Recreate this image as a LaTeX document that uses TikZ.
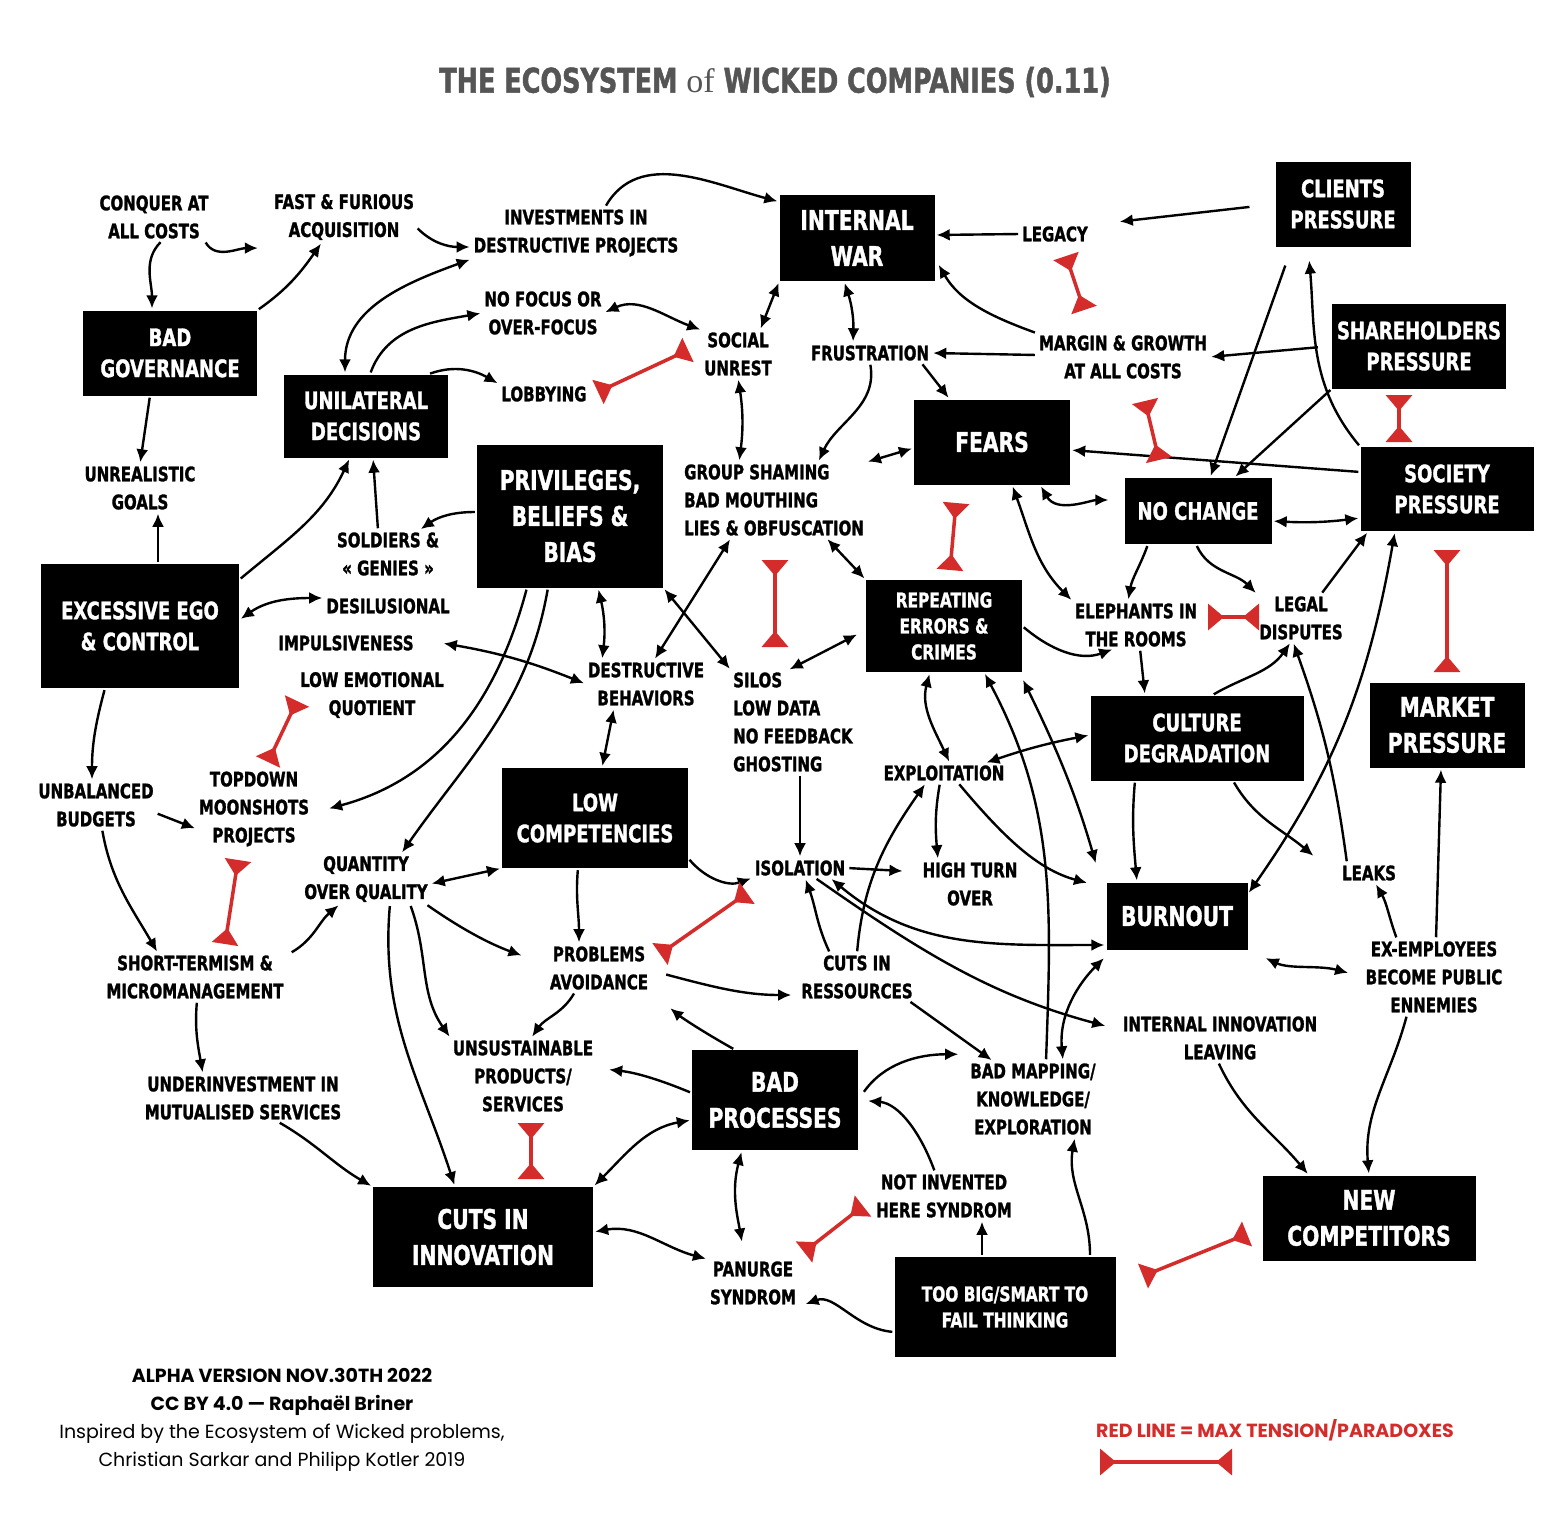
\documentclass[tikz,border=0pt]{standalone}
\usepackage{fontspec}
\usetikzlibrary{arrows.meta}
\newfontfamily\wickedfont[FakeStretch=0.75,FakeBold=1.3]{DejaVu Sans}
\newfontfamily\ofserif{Liberation Serif}
\newfontfamily\footfont{Poppins}
\definecolor{tensionred}{HTML}{D42B2B}
\definecolor{titlegray}{HTML}{555555}
\tikzset{
  wbox/.style 2 args={fill=black, text=white, align=center, inner sep=0pt, minimum width=#1pt, minimum height=#2pt},
  bigtype/.style={font=\wickedfont\bfseries\fontsize{27}{36}\selectfont},
  midtype/.style={font=\wickedfont\bfseries\fontsize{24}{31}\selectfont},
  smalltype/.style={font=\wickedfont\bfseries\fontsize{20.5}{26}\selectfont},
  issue/.style={font=\wickedfont\bfseries\fontsize{20}{28}\selectfont, align=center, inner sep=2pt},
  cause/.style={-{Latex[length=13pt,width=12pt]}, line width=2.4pt, shorten >=2pt, shorten <=2pt},
  mutual/.style={{Latex[length=13pt,width=12pt]}-{Latex[length=13pt,width=12pt]}, line width=2.4pt, shorten >=2pt, shorten <=2pt},
  strainline/.style={draw=tensionred, line width=3.5pt, {Triangle[reversed,length=16pt,width=26pt]}-{Triangle[reversed,length=16pt,width=26pt]}}
}
\begin{document}
\begin{tikzpicture}[x=1pt,y=1pt]
\useasboundingbox (0,0) rectangle (1562,-1536);
\fill[white] (0,0) rectangle (1562,-1536);

\node[font=\wickedfont\bfseries\fontsize{34}{40}\selectfont, text=titlegray] (title) at (775,-82) {THE ECOSYSTEM {\ofserif\mdseries of} WICKED COMPANIES (0.11)};

\node[wbox={174}{85}, midtype] (gov) at (170,-353) {BAD\\GOVERNANCE};
\node[wbox={164}{83}, midtype] (unil) at (366,-416) {UNILATERAL\\DECISIONS};
\node[wbox={198}{124}, midtype] (ego) at (140,-626) {EXCESSIVE EGO\\\& CONTROL};
\node[wbox={186}{143}, bigtype] (priv) at (570,-516) {PRIVILEGES,\\BELIEFS \&\\BIAS};
\node[wbox={155}{86}, bigtype] (war) at (857,-238) {INTERNAL\\WAR};
\node[wbox={135}{85}, midtype] (clients) at (1343,-204) {CLIENTS\\PRESSURE};
\node[wbox={174}{85}, midtype] (share) at (1419,-346) {SHAREHOLDERS\\PRESSURE};
\node[wbox={156}{85}, bigtype] (fears) at (992,-442) {FEARS};
\node[wbox={147}{66}, midtype] (nochange) at (1198,-511) {NO CHANGE};
\node[wbox={173}{84}, midtype] (society) at (1447,-489) {SOCIETY\\PRESSURE};
\node[wbox={156}{92}, smalltype] (repeat) at (944,-626) {REPEATING\\ERRORS \&\\CRIMES};
\node[wbox={213}{85}, midtype] (culture) at (1197,-738) {CULTURE\\DEGRADATION};
\node[wbox={155}{85}, bigtype] (market) at (1447,-725) {MARKET\\PRESSURE};
\node[wbox={186}{100}, midtype] (lowcomp) at (595,-818) {LOW\\COMPETENCIES};
\node[wbox={141}{67}, bigtype] (burnout) at (1177,-916) {BURNOUT};
\node[wbox={166}{100}, bigtype] (badproc) at (775,-1100) {BAD\\PROCESSES};
\node[wbox={220}{100}, bigtype] (cutsinno) at (483,-1237) {CUTS IN\\INNOVATION};
\node[wbox={221}{100}, smalltype] (toobig) at (1005,-1307) {TOO BIG/SMART TO\\FAIL THINKING};
\node[wbox={213}{85}, bigtype] (newcomp) at (1369,-1218) {NEW\\COMPETITORS};

\node[issue] (conquer) at (154,-217) {CONQUER AT\\ALL COSTS};
\node[issue] (fastfur) at (344,-217) {FAST \& FURIOUS\\ACQUISITION};
\node[issue] (invest) at (576,-233) {INVESTMENTS IN\\DESTRUCTIVE PROJECTS};
\node[issue] (nofocus) at (543,-313) {NO FOCUS OR\\OVER-FOCUS};
\node[issue] (lobby) at (544,-394) {LOBBYING};
\node[issue] (social) at (738,-354) {SOCIAL\\UNREST};
\node[issue] (frustr) at (870,-353) {FRUSTRATION};
\node[issue] (legacy) at (1055,-234) {LEGACY};
\node[issue] (margin) at (1123,-357) {MARGIN \& GROWTH\\AT ALL COSTS};
\node[issue] (unreal) at (140,-488) {UNREALISTIC\\GOALS};
\node[issue] (soldiers) at (388,-554) {SOLDIERS \&\\« GENIES »};
\node[issue, align=left, anchor=west] (group) at (682,-500) {GROUP SHAMING\\BAD MOUTHING\\LIES \& OBFUSCATION};
\node[issue] (desil) at (388,-606) {DESILUSIONAL};
\node[issue] (impuls) at (346,-643) {IMPULSIVENESS};
\node[issue] (lowemo) at (372,-695) {LOW EMOTIONAL\\QUOTIENT};
\node[issue] (destr) at (646,-684) {DESTRUCTIVE\\BEHAVIORS};
\node[issue, align=left, anchor=west] (silos) at (731,-722) {SILOS\\LOW DATA\\NO FEEDBACK\\GHOSTING};
\node[issue] (elephants) at (1136,-625) {ELEPHANTS IN\\THE ROOMS};
\node[issue] (legal) at (1301,-618) {LEGAL\\DISPUTES};
\node[issue] (unbal) at (96,-805) {UNBALANCED\\BUDGETS};
\node[issue] (topdown) at (254,-809) {TOPDOWN\\MOONSHOTS\\PROJECTS};
\node[issue] (quantity) at (366,-879) {QUANTITY\\OVER QUALITY};
\node[issue] (exploit) at (944,-773) {EXPLOITATION};
\node[issue] (isolation) at (800,-868) {ISOLATION};
\node[issue] (highturn) at (970,-884) {HIGH TURN\\OVER};
\node[issue] (leaks) at (1369,-873) {LEAKS};
\node[issue] (shortterm) at (195,-977) {SHORT-TERMISM \&\\MICROMANAGEMENT};
\node[issue] (problems) at (599,-968) {PROBLEMS\\AVOIDANCE};
\node[issue] (cutsres) at (857,-977) {CUTS IN\\RESSOURCES};
\node[issue] (exempl) at (1434,-977) {EX-EMPLOYEES\\BECOME PUBLIC\\ENNEMIES};
\node[issue] (intinno) at (1220,-1038) {INTERNAL INNOVATION\\LEAVING};
\node[issue] (unsust) at (523,-1076) {UNSUSTAINABLE\\PRODUCTS/\\SERVICES};
\node[issue] (underinv) at (243,-1098) {UNDERINVESTMENT IN\\MUTUALISED SERVICES};
\node[issue] (badmap) at (1033,-1099) {BAD MAPPING/\\KNOWLEDGE/\\EXPLORATION};
\node[issue] (notinv) at (944,-1196) {NOT INVENTED\\HERE SYNDROM};
\node[issue] (panurge) at (753,-1283) {PANURGE\\SYNDROM};

\node[font=\footfont\fontsize{19}{28}\selectfont, align=center] (credits) at (282,-1420) {\textbf{ALPHA VERSION NOV.30TH 2022}\\\textbf{CC BY 4.0 — Raphaël Briner}\\Inspired by the Ecosystem of Wicked problems,\\Christian Sarkar and Philipp Kotler 2019};
\node[font=\footfont\bfseries\fontsize{19}{22}\selectfont, text=tensionred] (legendtxt) at (1275,-1430) {RED LINE = MAX TENSION/PARADOXES};

\draw[cause] ([xshift=-6pt]conquer.south east) to[out=-60,in=180] ([xshift=-12pt,yshift=-6pt]fastfur.south west);
\draw[cause] ([xshift=8pt]conquer.south) to[out=-135,in=90] ([xshift=-18pt]gov.north);
\draw[cause] (gov.north east) to[out=35,in=-125] ([xshift=-22pt]fastfur.south);
\draw[cause] ([yshift=-10pt]fastfur.east) to[out=-45,in=180] ([yshift=-14pt]invest.west);
\draw[mutual] ([xshift=-21pt]unil.north) to[out=90,in=200] ([yshift=-26pt]invest.west);
\draw[cause] ([xshift=4pt]unil.north) to[out=70,in=190] (nofocus.west);
\draw[cause] ([xshift=-20pt]unil.north east) to[out=20,in=150] (lobby.north west);
\draw[cause] ([xshift=-20pt]gov.south) -- (unreal.north);
\draw[cause] ([xshift=18pt]ego.north) -- ([xshift=18pt]unreal.south);
\draw[cause] ([yshift=-16pt]ego.north east) to[out=40,in=-115] ([xshift=-16pt]unil.south);
\draw[cause] ([xshift=-10pt]soldiers.north) -- ([xshift=7pt]unil.south);
\draw[cause] ([yshift=4pt]priv.west) to[out=180,in=35] ([xshift=-22pt]soldiers.north east);
\draw[mutual] ([yshift=6pt]ego.east) to[out=35,in=180] ([yshift=8pt]desil.west);
\draw[mutual] ([xshift=26pt]impuls.east) to[bend left=6] (destr.west);
\draw[cause] ([xshift=-43pt]priv.south) to[out=-105,in=15] ([xshift=16pt]topdown.east);
\draw[cause] ([xshift=-22pt]priv.south) to[out=-100,in=55] ([xshift=35pt]quantity.north);
\draw[mutual] ([xshift=28pt]priv.south) to[bend left=10] ([xshift=-44pt]destr.north);
\draw[mutual] (priv.south east) -- (silos.north west);
\draw[mutual] ([xshift=-43pt]group.south) -- ([xshift=8pt]destr.north);
\draw[mutual] ([xshift=52pt]group.south) -- (repeat.north west);
\draw[mutual] (social.south) to[bend left=8] ([xshift=-35pt]group.north);
\draw[mutual] ([xshift=22pt]social.north) -- (war.south west);
\draw[mutual] (nofocus.east) to[out=25,in=160] (social.north west);
\draw[cause] ([xshift=29pt]invest.north) to[out=60,in=165] ([yshift=-7pt]war.north west);
\draw[mutual] ([xshift=-13pt]war.south) to[bend left=10] ([xshift=-17pt]frustr.north);
\draw[cause] (legacy.west) -- ([yshift=3pt]war.east);
\draw[cause, shorten <=26pt, shorten >=30pt] (clients.west) -- ([yshift=9pt]legacy.east);
\draw[cause, shorten >=8pt] (margin.north west) to[out=160,in=-60] ([yshift=-20pt]war.east);
\draw[cause] ([yshift=2pt]margin.west) -- (frustr.east);
\draw[cause] ([xshift=-10pt]frustr.south east) -- ([xshift=36pt]fears.north west);
\draw[cause] (frustr.south) to[out=-80,in=65] ([xshift=44pt]group.north);
\draw[mutual] ([yshift=-6pt]fears.west) -- (group.north east);
\draw[cause, shorten <=14pt] (share.west) -- (margin.east);
\draw[cause, shorten <=20pt] ([xshift=-51pt]clients.south) -- ([xshift=12pt]nochange.north);
\draw[cause, shorten >=14pt] (society.north west) to[out=130,in=-85] ([xshift=-35pt]clients.south);
\draw[cause] (share.south west) -- ([xshift=36pt]nochange.north);
\draw[cause] ([yshift=17pt]society.west) -- ([yshift=-8pt]fears.east);
\draw[mutual, shorten >=16pt] ([xshift=48pt]fears.south) to[out=-60,in=180] ([yshift=11pt]nochange.west);
\draw[mutual] ([yshift=-10pt]nochange.east) to[bend right=5] ([yshift=-29pt]society.west);
\draw[mutual] ([xshift=20pt]fears.south) to[out=-70,in=135] (elephants.north west);
\draw[cause] ([xshift=-50pt]nochange.south) to[out=-110,in=80] ([xshift=-8pt]elephants.north);
\draw[cause] ([xshift=-2pt]nochange.south) to[out=-65,in=135] (legal.north west);
\draw[cause] ([xshift=20pt]legal.north) -- ([xshift=8pt]society.south west);
\draw[mutual] ([xshift=-52pt]society.south) to[out=-100,in=55] ([yshift=-12pt]burnout.north east);
\draw[cause] (repeat.east) to[out=-40,in=200] ([xshift=-22pt]elephants.south);
\draw[cause] ([xshift=4pt]elephants.south) -- ([xshift=-52pt]culture.north);
\draw[cause] ([xshift=15pt]culture.north) to[out=30,in=-125] ([xshift=-10pt]legal.south);
\draw[cause] ([xshift=-22pt]leaks.north) to[bend right=6] ([xshift=-8pt]legal.south);
\draw[cause] ([xshift=36pt]culture.south) to[out=-60,in=140] ([xshift=-25pt,yshift=16pt]leaks.west);
\draw[cause] ([xshift=-62pt]culture.south) to[out=-95,in=95] ([xshift=-40pt]burnout.north);
\draw[mutual] ([yshift=3pt]culture.west) to[bend right=4] ([xshift=-22pt]exploit.north east);
\draw[mutual] ([xshift=-14pt]repeat.south) to[out=-105,in=115] ([xshift=6pt]exploit.north);
\draw[cause] ([xshift=-4pt]exploit.south) to[out=-100,in=95] ([xshift=-32pt]highturn.north);
\draw[cause, shorten >=20pt] ([xshift=14pt]exploit.south) to[out=-50,in=165] ([yshift=28pt]burnout.west);
\draw[cause, shorten >=18pt] (isolation.east) -- ([yshift=12pt]highturn.west);
\draw[cause] (silos.south -| isolation.north) -- (isolation.north);
\draw[mutual, shorten >=10pt] ([xshift=-5pt]silos.north) -- ([yshift=-4pt]repeat.west);
\draw[mutual] ([xshift=30pt]isolation.south) to[out=-40,in=180] ([yshift=-29pt]burnout.west);
\draw[cause, shorten >=16pt] ([xshift=15pt]isolation.south) to[out=-35,in=165] ([yshift=8pt]intinno.west);
\draw[cause] ([xshift=-27pt]cutsres.north) to[out=115,in=-70] ([xshift=5pt]isolation.south);
\draw[cause] (cutsres.north) to[out=85,in=-125] ([xshift=-18pt]exploit.south);
\draw[cause] ([xshift=-6pt]cutsres.south east) -- ([xshift=25pt]badmap.north west);
\draw[cause] ([yshift=10pt]lowcomp.south east) to[out=-50,in=200] (isolation.south west);
\draw[mutual] ([xshift=7pt]lowcomp.north) -- ([xshift=-32pt]destr.south);
\draw[cause] ([xshift=-17pt]lowcomp.south) to[out=-95,in=90] ([xshift=-20pt]problems.north);
\draw[mutual] ([yshift=-5pt]quantity.east) -- (lowcomp.south west);
\draw[cause, shorten >=28pt] ([xshift=-4pt]quantity.south east) to[out=-35,in=160] ([yshift=3pt]problems.west);
\draw[cause] ([xshift=44pt]quantity.south) to[out=-70,in=125] (unsust.north west);
\draw[cause] ([xshift=24pt]quantity.south) to[out=-95,in=108] ([xshift=-28pt]cutsinno.north);
\draw[cause, shorten >=8pt] ([xshift=14pt,yshift=-6pt]problems.east) to[out=-15,in=180] ([yshift=-18pt]cutsres.west);
\draw[cause] ([xshift=-24pt]problems.south) to[out=-120,in=55] ([xshift=8pt]unsust.north);
\draw[cause, shorten >=26pt] ([xshift=-40pt]badproc.north) to[bend left=5] (problems.south east);
\draw[cause, shorten >=14pt] ([yshift=7pt]badproc.west) to[bend right=8] ([yshift=8pt]unsust.east);
\draw[mutual] ([yshift=-20pt]badproc.west) to[out=190,in=45] (cutsinno.north east);
\draw[mutual, shorten >=18pt] ([xshift=-33pt]badproc.south) to[out=-105,in=100] ([xshift=-8pt]panurge.north);
\draw[mutual] ([yshift=5pt]cutsinno.east) to[out=10,in=165] (panurge.north west);
\draw[cause, shorten >=10pt] ([xshift=-9pt]notinv.north) to[out=110,in=-5] (badproc.east);
\draw[cause, shorten <=10pt] (badproc.east) to[out=55,in=180] ([xshift=-8pt,yshift=7pt]badmap.north west);
\draw[cause] ([xshift=-23pt]toobig.north) -- ([xshift=38pt]notinv.south);
\draw[cause, shorten >=8pt] ([yshift=-25pt]toobig.west) to[out=175,in=20] (panurge.south east);
\draw[cause] ([xshift=85pt]toobig.north) to[out=90,in=-100] ([xshift=42pt]badmap.south);
\draw[cause] ([xshift=13pt]badmap.north) to[out=88,in=-62] ([xshift=40pt]repeat.south);
\draw[mutual, shorten >=20pt] ([yshift=-6pt]repeat.south east) to[bend left=5] ([xshift=-5pt]burnout.north west);
\draw[mutual, shorten >=12pt] ([xshift=30pt]badmap.north) to[out=95,in=-135] ([xshift=6pt]burnout.south west);
\draw[mutual, shorten <=20pt, shorten >=16pt] (burnout.south east) to[out=-25,in=165] (exempl.west);
\draw[cause] ([xshift=-37pt]exempl.north) to[out=110,in=-60] ([xshift=6pt]leaks.south);
\draw[cause] ([xshift=2pt]exempl.north) -- ([xshift=-6pt]market.south);
\draw[cause] ([xshift=-27pt]exempl.south) to[out=-105,in=95] (newcomp.north);
\draw[cause] ([xshift=-2pt]intinno.south) to[out=-65,in=130] ([xshift=-60pt]newcomp.north);
\draw[cause] ([xshift=-35pt]ego.south) to[out=-105,in=90] ([xshift=-4pt]unbal.north);
\draw[cause] ([yshift=-8pt]unbal.east) -- ([yshift=-20pt]topdown.west);
\draw[cause] ([xshift=6pt]unbal.south) to[out=-80,in=120] ([xshift=-37pt]shortterm.north);
\draw[cause] ([xshift=95pt]shortterm.north) to[out=30,in=-140] ([xshift=-26pt]quantity.south);
\draw[cause] ([xshift=2pt]shortterm.south) to[out=-95,in=100] ([xshift=-40pt]underinv.north);
\draw[cause] ([xshift=35pt]underinv.south) to[out=-30,in=150] (cutsinno.north west);

\foreach \tn/\ax/\ay/\bx/\by in {legacytn/1066/256/1084/310, lobbytn/598/392/688/350,
    fearstn/1145/401/1159/460, sharetn/1399/395/1399/442, markettn/1447/550/1447/672,
    legaltn/1208/617/1259/617, repeattn/956/503/950/570, silostn/775/560/775/647,
    emotn/297/701/268/762, topdowntn/238/860/225/944, isoltn/660/954/747/893,
    unsusttn/531/1123/531/1179, panurgetn/804/1252/863/1206, newcomptn/1143/1276/1247/1234,
    legendtn/1100/1462/1232/1462}{
  \coordinate (\tn-a) at (\ax,-\ay);
  \coordinate (\tn-b) at (\bx,-\by);
  \draw[strainline] (\tn-a) -- (\tn-b);
}
\end{tikzpicture}
\end{document}
